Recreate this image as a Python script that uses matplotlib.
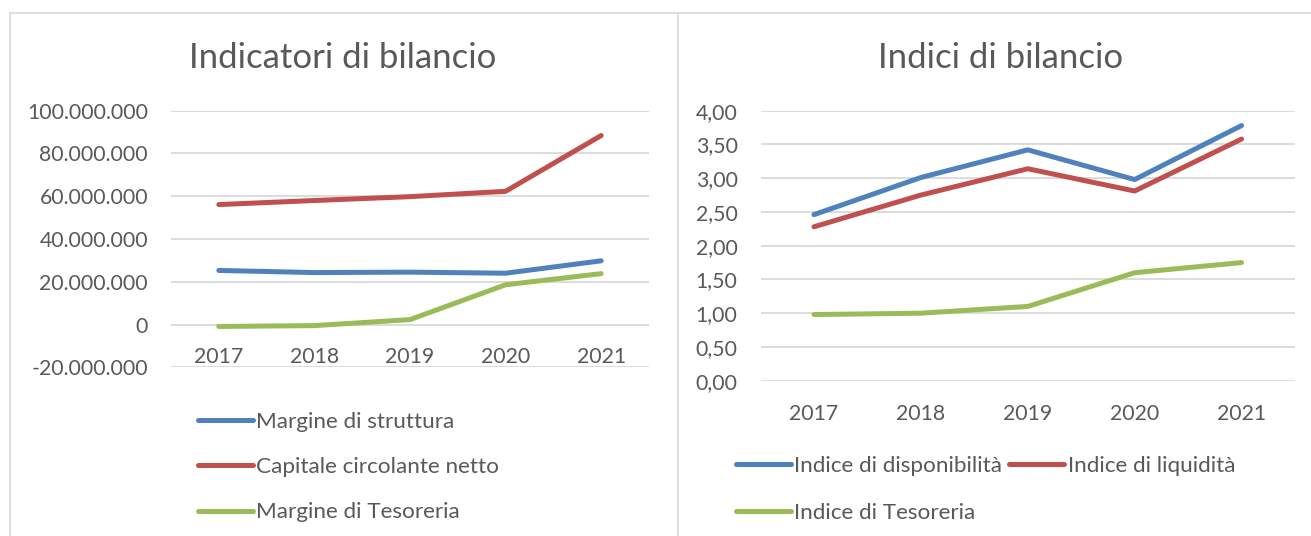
import matplotlib
matplotlib.use("Agg")
import matplotlib.pyplot as plt
from matplotlib.lines import Line2D
from matplotlib.ticker import FuncFormatter

plt.rcParams['font.family'] = ['Lato', 'DejaVu Sans']

# data
years = ['2017', '2018', '2019', '2020', '2021']

margine_struttura = [25.3e6, 24.3e6, 24.5e6, 24.0e6, 29.8e6]
capitale_circolante = [56.1e6, 58.0e6, 59.8e6, 62.3e6, 88.4e6]
margine_tesoreria = [-0.9e6, -0.5e6, 2.3e6, 18.6e6, 23.8e6]

indice_disponibilita = [2.46, 3.01, 3.42, 2.98, 3.78]
indice_liquidita = [2.28, 2.75, 3.14, 2.81, 3.58]
indice_tesoreria = [0.98, 1.00, 1.10, 1.60, 1.75]

BLUE = '#4F81BD'
RED = '#C0504D'
GREEN = '#9BBB59'
TXT = '#595959'
GRID = '#D9D9D9'

W, H = 1311, 536
fig = plt.figure(figsize=(W / 100, H / 100), dpi=100)


def px_axes(x0, x1, ytop, ybot):
    return fig.add_axes([x0 / W, 1 - ybot / H, (x1 - x0) / W, (ybot - ytop) / H])


def style(ax, ylim, step, fmt):
    x = range(len(years))
    ax.set_xlim(-0.5, len(years) - 0.5)
    ax.set_ylim(*ylim)
    ax.set_yticks([ylim[0] + i * step for i in range(int(round((ylim[1] - ylim[0]) / step)) + 1)])
    ax.yaxis.set_major_formatter(FuncFormatter(fmt))
    ax.set_xticks(list(x))
    ax.set_xticklabels(years)
    ax.grid(axis='y', color=GRID, lw=1.3)
    ax.set_axisbelow(True)
    for s in ax.spines.values():
        s.set_visible(False)
    ax.spines['bottom'].set_position(('data', 0))
    ax.tick_params(length=0, labelsize=15.3, colors=TXT)
    ax.tick_params(axis='y', pad=16.5)
    ax.tick_params(axis='x', pad=16.5)


lw = 3.6
kw = dict(lw=lw, solid_capstyle='round', solid_joinstyle='round')
leg_kw = dict(bbox_transform=fig.transFigure, frameon=False, fontsize=16.2, labelcolor=TXT,
              handlelength=2.45, handletextpad=0.15, borderpad=0, borderaxespad=0)

# left chart
ax1 = px_axes(171, 649, 110.7, 367.3)
x = range(len(years))
l1, = ax1.plot(x, margine_struttura, color=BLUE, label='Margine di struttura', **kw)
l2, = ax1.plot(x, capitale_circolante, color=RED, label='Capitale circolante netto', **kw)
l3, = ax1.plot(x, margine_tesoreria, color=GREEN, label='Margine di Tesoreria', **kw)
style(ax1, (-20e6, 100e6), 20e6, lambda v, p: f"{v:,.0f}".replace(",", "."))
ax1.legend(handles=[l1, l2, l3], loc='upper left', bbox_to_anchor=(198 / W, 1 - 412 / H),
           labelspacing=1.12, **leg_kw)

# right chart
ax2 = px_axes(760.5, 1295, 110.7, 380.7)
r1, = ax2.plot(x, indice_disponibilita, color=BLUE, label='Indice di disponibilità', **kw)
r2, = ax2.plot(x, indice_liquidita, color=RED, label='Indice di liquidità', **kw)
r3, = ax2.plot(x, indice_tesoreria, color=GREEN, label='Indice di Tesoreria', **kw)
style(ax2, (0, 4), 0.5, lambda v, p: f"{v:.2f}".replace(".", ","))
ax2.legend(handles=[r1, r3, r2], loc='upper left', ncol=2, bbox_to_anchor=(736 / W, 1 - 456 / H),
           labelspacing=1.2, columnspacing=0.3, **leg_kw)

# titles
fig.text(343 / W, 1 - 58 / H, 'Indicatori di bilancio', ha='center', va='center', fontsize=25, color=TXT)
fig.text(1001 / W, 1 - 58 / H, 'Indici di bilancio', ha='center', va='center', fontsize=25, color=TXT)

# panel borders
bc = '#D9D9D9'
fig.add_artist(Line2D([10 / W, 1], [1 - 12.5 / H, 1 - 12.5 / H], color=bc, lw=1.2))
fig.add_artist(Line2D([10 / W, 10 / W], [0, 1 - 12.5 / H], color=bc, lw=1.2))
fig.add_artist(Line2D([678 / W, 678 / W], [0, 1 - 12.5 / H], color=bc, lw=1.2))

fig.savefig('out.png', dpi=100, facecolor='white')
